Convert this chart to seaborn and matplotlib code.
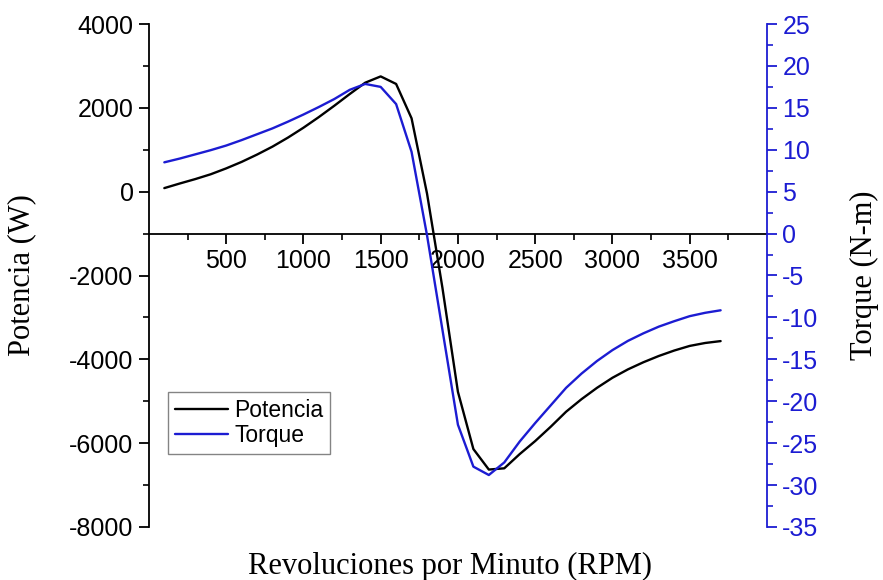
import numpy as np
import pandas as pd
import matplotlib
matplotlib.use("Agg")
import matplotlib.pyplot as plt
import seaborn as sns
from matplotlib.ticker import MultipleLocator, FixedLocator

# ---- data ----
rpm = [100, 200, 300, 400, 500, 600, 700, 800, 900, 1000,
       1100, 1200, 1300, 1400, 1500, 1600, 1700, 1800, 1900, 2000,
       2100, 2200, 2300, 2400, 2500, 2600, 2700, 2800, 2900, 3000,
       3100, 3200, 3300, 3400, 3500, 3600, 3700]
potencia = [85, 195, 300, 415, 555, 710, 885, 1075, 1290, 1525,
            1780, 2050, 2330, 2600, 2750, 2570, 1750, -45, -2300, -4775,
            -6140, -6630, -6600, -6260, -5950, -5610, -5250, -4950, -4680, -4440,
            -4240, -4070, -3920, -3790, -3680, -3610, -3565]
torque = [8.5, 8.95, 9.45, 9.95, 10.5, 11.15, 11.85, 12.55, 13.35, 14.2,
          15.1, 16.05, 17.15, 17.85, 17.5, 15.45, 9.75, -0.2, -11.5, -22.8,
          -27.8, -28.8, -27.3, -24.8, -22.6, -20.5, -18.4, -16.7, -15.2, -13.9,
          -12.8, -11.9, -11.1, -10.45, -9.85, -9.45, -9.15]
series_names = ["Potencia", "Torque"]
x_label = "Revoluciones por Minuto (RPM)"
y_left_label = "Potencia (W)"
y_right_label = "Torque (N-m)"

df = pd.DataFrame({"rpm": rpm, "potencia": potencia, "torque": torque})

sns.set_style("ticks")
plt.rcParams["font.family"] = ["Liberation Sans", "DejaVu Sans"]
plt.rcParams["axes.unicode_minus"] = False
for key in ["text.color", "axes.labelcolor", "xtick.color", "ytick.color",
            "axes.edgecolor"]:
    plt.rcParams[key] = "black"

BLUE = "#1c1cd2"

fig = plt.figure(figsize=(8.83, 5.8), dpi=100)
ax = fig.add_axes([0.1686, 0.0914, 0.700, 0.8672])

sns.lineplot(data=df, x="rpm", y="potencia", ax=ax, color="black",
             linewidth=1.7, legend=False)
ax2 = ax.twinx()
sns.lineplot(data=df, x="rpm", y="torque", ax=ax2, color=BLUE,
             linewidth=1.7, legend=False)

ax.set_xlim(0, 4000)
ax.set_ylim(-8000, 4000)
ax2.set_ylim(-35, 25)

# spines
ax.spines["top"].set_visible(False)
ax.spines["right"].set_visible(False)
ax.spines["bottom"].set_position(("data", -1000))
for s in ["top", "left", "bottom"]:
    ax2.spines[s].set_visible(False)
ax2.spines["right"].set_color(BLUE)
for sp in [ax.spines["left"], ax.spines["bottom"], ax2.spines["right"]]:
    sp.set_linewidth(1.3)

# ticks
ax.xaxis.set_major_locator(FixedLocator([500, 1000, 1500, 2000, 2500, 3000, 3500]))
ax.xaxis.set_minor_locator(FixedLocator([250, 750, 1250, 1750, 2250, 2750, 3250, 3750]))
ax.yaxis.set_major_locator(MultipleLocator(2000))
ax.yaxis.set_minor_locator(MultipleLocator(1000))
ax2.yaxis.set_major_locator(MultipleLocator(5))
ax2.yaxis.set_minor_locator(MultipleLocator(2.5))

ax.tick_params(which="major", length=7, width=1.3, labelsize=18, direction="out",
               pad=4, colors="black")
ax.tick_params(which="minor", length=4, width=1.2, direction="out", colors="black")
ax2.tick_params(axis="y", which="major", length=7, width=1.3, labelsize=18,
                direction="out", colors=BLUE, pad=4)
ax2.tick_params(axis="y", which="minor", length=4, width=1.2, direction="out",
                colors=BLUE)

# labels
serif = ["Liberation Serif", "DejaVu Serif"]
ax.set_xlabel(x_label, fontsize=22, family=serif, color="black")
ax.xaxis.set_label_coords(0.487, -0.05)
ax.set_ylabel(y_left_label, fontsize=22, family=serif, color="black")
ax.yaxis.set_label_coords(-0.183, 0.5)
ax2.set_ylabel(y_right_label, fontsize=22, family=serif, color="black")
ax2.yaxis.set_label_coords(1.134, 0.5)

# legend
handles = [ax.lines[0], ax2.lines[0]]
leg = ax2.legend(handles, series_names, loc="upper left",
                 bbox_to_anchor=(0.031, 0.269), borderaxespad=0,
                 fontsize=16.5, frameon=True, fancybox=False,
                 handlelength=2.3, handletextpad=0.3, borderpad=0.3,
                 labelspacing=0.1)
for t in leg.get_texts():
    t.set_color("black")
leg.get_frame().set_edgecolor("#666666")
leg.get_frame().set_linewidth(1.0)

fig.savefig("out.png", dpi=100, facecolor="white")
